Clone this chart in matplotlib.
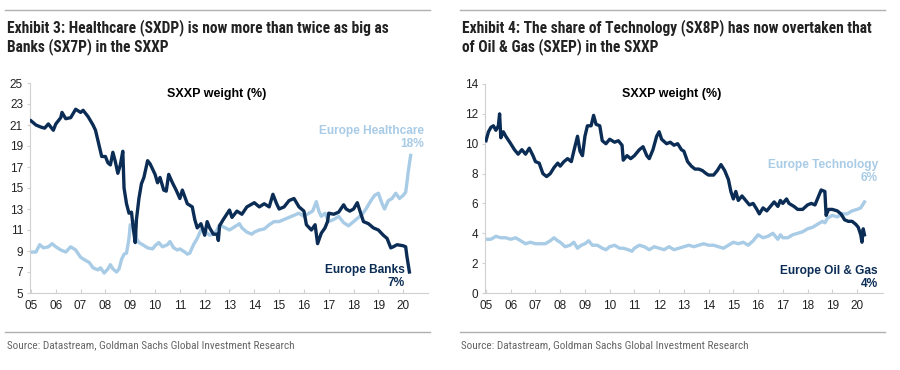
import matplotlib.pyplot as plt
from matplotlib.lines import Line2D

DARK = '#0b2d55'
LIGHT = '#a8cbe6'
GREY = '#666666'

years = list(range(2005, 2021))
year_labels = ['%02d' % (y % 100) for y in years]

# Exhibit 3: Banks vs Healthcare, SXXP weight (%)
banks_t = [2005.0, 2005.2, 2005.4, 2005.55, 2005.7, 2005.9, 2006.0, 2006.2, 2006.25, 2006.4,
           2006.6, 2006.8, 2007.0, 2007.1, 2007.3, 2007.5, 2007.6, 2007.7, 2007.85, 2008.0,
           2008.1, 2008.2, 2008.3, 2008.4, 2008.5, 2008.6, 2008.7, 2008.75, 2008.85, 2008.95,
           2009.05, 2009.12, 2009.2, 2009.25, 2009.35, 2009.45, 2009.55, 2009.7, 2009.8, 2010.0,
           2010.1, 2010.2, 2010.35, 2010.45, 2010.55, 2010.7, 2010.85, 2011.0, 2011.1, 2011.3,
           2011.5, 2011.6, 2011.7, 2011.85, 2012.0, 2012.1, 2012.2, 2012.35, 2012.5, 2012.55,
           2012.6, 2012.75, 2013.0, 2013.1, 2013.3, 2013.5, 2013.7, 2014.0, 2014.2, 2014.4,
           2014.6, 2014.75, 2014.9, 2015.0, 2015.2, 2015.4, 2015.6, 2015.8, 2016.0, 2016.1,
           2016.3, 2016.45, 2016.55, 2016.7, 2016.85, 2016.95, 2017.0, 2017.2, 2017.4, 2017.6,
           2017.7, 2017.85, 2018.0, 2018.15, 2018.3, 2018.4, 2018.6, 2018.8, 2019.0, 2019.2,
           2019.35, 2019.5, 2019.6, 2019.75, 2020.0, 2020.1, 2020.15, 2020.25]
banks = [21.4, 21.0, 20.8, 20.7, 21.1, 20.5, 21.1, 21.7, 22.2, 21.6,
         21.7, 22.5, 22.2, 22.4, 21.8, 21.0, 20.5, 19.5, 18.0, 18.0,
         17.4, 17.2, 18.4, 17.5, 16.4, 17.2, 18.5, 15.0, 13.5, 12.6,
         12.7, 11.2, 9.8, 12.0, 14.0, 15.4, 16.0, 17.6, 17.3, 16.3,
         15.5, 16.0, 14.8, 14.7, 16.3, 15.5, 14.8, 14.0, 14.8, 13.5,
         13.2, 12.0, 11.2, 11.6, 10.5, 11.8, 11.2, 10.6, 10.6, 10.0,
         11.4, 12.0, 12.9, 12.2, 12.8, 12.5, 13.2, 13.6, 13.2, 13.5,
         13.2, 14.4, 13.5, 13.0, 13.2, 13.8, 14.0, 13.2, 12.8, 11.5,
         11.0, 11.5, 9.7, 10.7, 11.2, 11.8, 12.6, 12.5, 12.7, 13.4,
         13.0, 12.8, 13.0, 13.6, 12.5, 11.8, 11.6, 11.2, 11.0, 10.5,
         10.2, 9.3, 9.4, 9.6, 9.5, 9.4, 8.5, 7.0]

health_t = [2005.0, 2005.2, 2005.35, 2005.5, 2005.7, 2005.85, 2006.0, 2006.2, 2006.4, 2006.6,
            2006.8, 2007.0, 2007.2, 2007.35, 2007.5, 2007.7, 2007.8, 2007.95, 2008.1, 2008.2,
            2008.3, 2008.45, 2008.55, 2008.65, 2008.75, 2008.85, 2008.95, 2009.0, 2009.1, 2009.15,
            2009.25, 2009.35, 2009.5, 2009.7, 2009.9, 2010.0, 2010.15, 2010.3, 2010.5, 2010.6,
            2010.75, 2010.9, 2011.0, 2011.2, 2011.3, 2011.4, 2011.55, 2011.7, 2011.85, 2012.0,
            2012.2, 2012.35, 2012.5, 2012.6, 2012.75, 2013.0, 2013.2, 2013.4, 2013.5, 2013.7,
            2013.9, 2014.0, 2014.2, 2014.4, 2014.6, 2014.8, 2015.0, 2015.2, 2015.4, 2015.6,
            2015.8, 2016.0, 2016.2, 2016.35, 2016.5, 2016.6, 2016.7, 2016.85, 2017.0, 2017.2,
            2017.4, 2017.6, 2017.8, 2018.0, 2018.2, 2018.35, 2018.5, 2018.7, 2018.85, 2019.0,
            2019.15, 2019.25, 2019.4, 2019.55, 2019.7, 2019.85, 2020.0, 2020.1, 2020.15, 2020.2,
            2020.3]
health = [8.9, 8.9, 9.6, 9.3, 9.4, 9.7, 9.4, 9.1, 8.9, 9.4,
          9.1, 8.4, 8.1, 7.9, 7.4, 7.2, 7.4, 6.9, 7.3, 7.7,
          7.3, 7.0, 7.3, 8.2, 8.7, 8.8, 10.2, 11.5, 11.3, 11.8,
          10.2, 9.8, 9.6, 9.3, 9.2, 9.5, 9.8, 9.4, 9.6, 9.9,
          9.3, 9.1, 9.2, 8.9, 8.7, 8.8, 9.6, 10.2, 11.0, 10.9,
          10.5, 10.6, 11.0, 11.5, 11.3, 11.0, 11.3, 11.6, 11.2, 10.8,
          10.6, 10.8, 11.0, 11.1, 11.5, 11.8, 11.8, 12.0, 12.2, 12.4,
          12.6, 12.3, 12.6, 12.8, 13.7, 12.8, 12.3, 12.6, 11.8, 12.0,
          12.3, 11.7, 11.4, 11.8, 12.2, 12.5, 13.0, 13.8, 14.3, 14.5,
          13.5, 13.0, 13.8, 14.0, 14.5, 14.0, 14.3, 14.6, 15.5, 16.5,
          18.1]

# Exhibit 4: Oil & Gas vs Technology, SXXP weight (%)
oil_t = [2005.0, 2005.1, 2005.2, 2005.3, 2005.4, 2005.5, 2005.55, 2005.6, 2005.7, 2005.8,
         2006.0, 2006.15, 2006.3, 2006.45, 2006.6, 2006.75, 2006.9, 2007.0, 2007.15, 2007.3,
         2007.45, 2007.6, 2007.75, 2007.9, 2008.0, 2008.15, 2008.3, 2008.45, 2008.55, 2008.7,
         2008.8, 2008.9, 2009.0, 2009.1, 2009.25, 2009.35, 2009.45, 2009.6, 2009.7, 2009.85,
         2010.0, 2010.2, 2010.35, 2010.5, 2010.55, 2010.7, 2010.85, 2011.0, 2011.2, 2011.35,
         2011.5, 2011.6, 2011.75, 2011.9, 2012.0, 2012.1, 2012.3, 2012.45, 2012.6, 2012.75,
         2012.9, 2013.0, 2013.15, 2013.3, 2013.45, 2013.6, 2013.75, 2013.9, 2014.0, 2014.2,
         2014.35, 2014.5, 2014.65, 2014.8, 2014.9, 2015.0, 2015.1, 2015.2, 2015.35, 2015.5,
         2015.65, 2015.8, 2015.95, 2016.05, 2016.2, 2016.35, 2016.5, 2016.65, 2016.8, 2016.9,
         2017.0, 2017.15, 2017.25, 2017.45, 2017.6, 2017.8, 2018.0, 2018.15, 2018.3, 2018.45,
         2018.55, 2018.7, 2018.75, 2018.85, 2019.0, 2019.2, 2019.35, 2019.5, 2019.65, 2019.8,
         2019.95, 2020.05, 2020.15, 2020.2, 2020.25, 2020.3]
oil = [10.2, 10.8, 11.1, 11.2, 10.9, 11.2, 12.0, 10.4, 10.8, 10.5,
       10.0, 9.6, 9.3, 9.6, 9.3, 9.7, 9.2, 8.8, 8.7, 8.0,
       7.8, 8.0, 8.4, 8.7, 8.5, 8.8, 9.0, 8.8, 9.5, 10.5,
       9.5, 9.2, 10.5, 11.2, 11.2, 11.9, 11.3, 11.2, 10.2, 10.0,
       10.3, 10.1, 10.2, 9.9, 8.9, 9.2, 9.0, 9.2, 9.6, 9.8,
       9.2, 9.0, 9.6, 10.5, 10.8, 10.3, 10.0, 10.1, 9.9, 10.0,
       9.6, 9.5, 8.8, 8.5, 8.3, 8.3, 8.2, 8.0, 7.9, 7.9,
       8.2, 8.6, 8.2, 7.6, 6.8, 6.3, 6.8, 6.2, 6.5, 6.2,
       5.9, 6.0, 5.6, 5.3, 5.7, 5.5, 5.8, 6.1, 5.8, 6.2,
       6.0, 6.3, 6.0, 5.8, 5.6, 5.6, 5.9, 6.0, 5.9, 6.5,
       6.9, 6.8, 5.2, 5.6, 5.6, 5.5, 5.3, 4.9, 4.8, 4.8,
       4.6, 4.4, 3.9, 3.4, 4.3, 3.9]

tech_t = [2005.0, 2005.2, 2005.4, 2005.6, 2005.8, 2006.0, 2006.2, 2006.4, 2006.6, 2006.8,
          2007.0, 2007.2, 2007.4, 2007.6, 2007.75, 2007.9, 2008.0, 2008.2, 2008.4, 2008.55,
          2008.7, 2008.85, 2009.0, 2009.15, 2009.3, 2009.5, 2009.7, 2009.85, 2010.0, 2010.2,
          2010.4, 2010.55, 2010.75, 2010.9, 2011.0, 2011.2, 2011.4, 2011.6, 2011.8, 2012.0,
          2012.2, 2012.4, 2012.6, 2012.8, 2013.0, 2013.2, 2013.4, 2013.6, 2013.8, 2014.0,
          2014.2, 2014.4, 2014.6, 2014.8, 2015.0, 2015.2, 2015.4, 2015.6, 2015.8, 2016.0,
          2016.2, 2016.4, 2016.6, 2016.8, 2016.9, 2017.0, 2017.2, 2017.4, 2017.6, 2017.8,
          2018.0, 2018.2, 2018.4, 2018.6, 2018.7, 2018.8, 2019.0, 2019.2, 2019.4, 2019.6,
          2019.8, 2020.0, 2020.15, 2020.3]
tech = [3.6, 3.6, 3.8, 3.7, 3.7, 3.6, 3.7, 3.5, 3.3, 3.4,
        3.3, 3.3, 3.3, 3.5, 3.7, 3.5, 3.4, 3.1, 3.2, 3.4,
        3.0, 3.2, 3.3, 3.5, 3.2, 3.2, 3.0, 2.9, 3.1, 3.2,
        3.0, 3.0, 2.9, 2.8, 3.0, 3.2, 3.1, 2.9, 3.1, 3.0,
        2.9, 3.1, 2.9, 3.0, 3.1, 3.2, 3.1, 3.2, 3.3, 3.2,
        3.2, 3.1, 3.0, 3.2, 3.4, 3.3, 3.4, 3.2, 3.5, 3.9,
        3.7, 3.8, 4.0, 3.6, 3.9, 3.7, 3.7, 3.9, 4.0, 4.1,
        4.3, 4.4, 4.6, 4.8, 4.7, 5.0, 5.2, 5.1, 5.3, 5.3,
        5.5, 5.6, 5.7, 6.1]

plt.rcParams['font.family'] = ['Liberation Sans', 'DejaVu Sans']
NARROW = ['Roboto Condensed', 'Archivo Narrow', 'Liberation Sans']

fig = plt.figure(figsize=(9, 3.7), dpi=100)


def style_axis(ax, ylim, yticks):
    ax.set_xlim(2004.96, 2021.0)
    ax.set_ylim(*ylim)
    ax.set_yticks(yticks)
    ax.set_xticks(years)
    ax.set_xticklabels(year_labels)
    for s in ['top', 'right']:
        ax.spines[s].set_visible(False)
    for s in ['left', 'bottom']:
        ax.spines[s].set_color('#d0d0d0')
        ax.spines[s].set_linewidth(0.8)
    ax.tick_params(axis='x', direction='in', length=3, color='#d0d0d0',
                   labelsize=8.5, labelcolor='#222222', pad=5)
    ax.tick_params(axis='y', direction='out', length=2, color='#d0d0d0',
                   labelsize=8.5, labelcolor='#222222', pad=3)


ax1 = fig.add_axes([30 / 900, 1 - 293 / 370, 398 / 900, 210 / 370])
style_axis(ax1, (5, 25), range(5, 26, 2))
ax1.plot(health_t, health, color=LIGHT, lw=2.4, zorder=2)
ax1.plot(banks_t, banks, color=DARK, lw=2.4, zorder=3)
ax1.text(0.47, 0.95, 'SXXP weight (%)', transform=ax1.transAxes, ha='center', va='center',
         fontsize=9, fontweight='bold', color='black')
ax1.text(2020.85, 20.4, 'Europe Healthcare', ha='right', va='center', fontsize=8.6,
         fontweight='bold', color=LIGHT)
ax1.text(2020.85, 19.2, '18%', ha='right', va='center', fontsize=8.6,
         fontweight='bold', color=LIGHT)
ax1.text(2020.05, 7.2, 'Europe Banks', ha='right', va='center', fontsize=8.6,
         fontweight='bold', color=DARK)
ax1.text(2020.05, 6.0, '7%', ha='right', va='center', fontsize=8.6,
         fontweight='bold', color=DARK)

ax2 = fig.add_axes([485 / 900, 1 - 293 / 370, 398 / 900, 209 / 370])
style_axis(ax2, (0, 14), range(0, 15, 2))
ax2.set_xlim(2004.96, 2021.05)
ax2.plot(tech_t, tech, color=LIGHT, lw=2.4, zorder=2)
ax2.plot(oil_t, oil, color=DARK, lw=2.4, zorder=3)
ax2.text(0.47, 0.95, 'SXXP weight (%)', transform=ax2.transAxes, ha='center', va='center',
         fontsize=9, fontweight='bold', color='black')
ax2.text(2020.85, 8.6, 'Europe Technology', ha='right', va='center', fontsize=8.6,
         fontweight='bold', color=LIGHT)
ax2.text(2020.85, 7.7, '6%', ha='right', va='center', fontsize=8.6,
         fontweight='bold', color=LIGHT)
ax2.text(2020.85, 1.5, 'Europe Oil & Gas', ha='right', va='center', fontsize=8.6,
         fontweight='bold', color=DARK)
ax2.text(2020.85, 0.6, '4%', ha='right', va='center', fontsize=8.6,
         fontweight='bold', color=DARK)

# separators, titles, sources
for x0, x1 in [(5, 430), (460, 885)]:
    for yy in [10, 332]:
        fig.add_artist(Line2D([x0 / 900, x1 / 900], [1 - yy / 370, 1 - yy / 370],
                              color='#b0b0b0', lw=1.0))

fig.text(7 / 900, 1 - 28 / 370, 'Exhibit 3: Healthcare (SXDP) is now more than twice as big as',
         family=NARROW, fontsize=11.2, fontweight='bold', color='#222222', va='center')
fig.text(7 / 900, 1 - 47 / 370, 'Banks (SX7P) in the SXXP',
         family=NARROW, fontsize=11.2, fontweight='bold', color='#222222', va='center')
fig.text(462 / 900, 1 - 28 / 370, 'Exhibit 4: The share of Technology (SX8P) has now overtaken that',
         family=NARROW, fontsize=11.2, fontweight='bold', color='#222222', va='center')
fig.text(462 / 900, 1 - 47 / 370, 'of Oil & Gas (SXEP) in the SXXP',
         family=NARROW, fontsize=11.2, fontweight='bold', color='#222222', va='center')

src = 'Source: Datastream, Goldman Sachs Global Investment Research'
fig.text(7 / 900, 1 - 345 / 370, src, family=NARROW, fontsize=8.1, color=GREY, va='center')
fig.text(461 / 900, 1 - 345 / 370, src, family=NARROW, fontsize=8.1, color=GREY, va='center')

fig.savefig('out.png', dpi=100)
